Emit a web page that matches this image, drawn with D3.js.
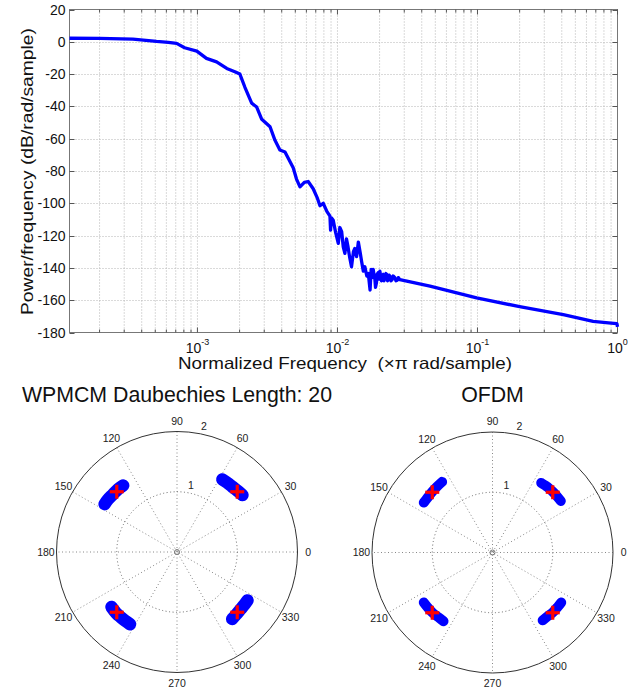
<!DOCTYPE html>
<html>
<head>
<meta charset="utf-8">
<script src="https://cdn.jsdelivr.net/npm/d3@7"></script>
<style>
html,body{margin:0;padding:0;background:#fff;}
svg{display:block;font-family:Arial,"Liberation Sans",sans-serif;}
</style>
</head>
<body>
<svg id="chart" width="643" height="693"></svg>
<script>
// ---------------- DATA ----------------
// PSD curve (normalized frequency x pi rad/sample, dB/rad/sample)
const psdFreq = [1.22e-4,2.0e-4,3.46e-4,5.1e-4,6.2e-4,7.1e-4,8.1e-4,9.9e-4,1.16e-3,1.37e-3,1.62e-3,1.85e-3,2.01e-3,
  2.18e-3,2.44e-3,2.65e-3,2.88e-3,3.30e-3,3.58e-3,3.88e-3,4.22e-3,4.83e-3,5.1e-3,5.40e-3,5.8e-3,6.18e-3,6.71e-3,
  7.2e-3,7.50e-3,7.92e-3,8.4e-3,8.84e-3,8.93e-3,9.05e-3,9.33e-3,9.7e-3,1.014e-2,1.04e-2,1.072e-2,1.1e-2,1.13e-2,
  1.16e-2,1.19e-2,1.22e-2,1.26e-2,1.30e-2,1.33e-2,1.37e-2,1.41e-2,1.45e-2,1.49e-2,1.53e-2,1.57e-2,1.62e-2,1.66e-2,
  1.71e-2,1.74e-2,1.77e-2,1.80e-2,1.83e-2,1.85e-2,1.87e-2,1.90e-2,1.92e-2,1.95e-2,1.98e-2,2.01e-2,2.04e-2,2.06e-2,
  2.09e-2,2.12e-2,2.15e-2,2.18e-2,2.22e-2,2.25e-2,2.28e-2,2.30e-2,2.34e-2,2.37e-2,2.41e-2,2.45e-2,2.50e-2,2.57e-2,
  2.62e-2,2.68e-2,2.72e-2,2.79e-2,4.58e-2,9.86e-2,0.2,0.41,0.67,0.9,0.99,1.0];
const psdPower = [2.2,2.1,1.6,0.2,-0.3,-1.0,-3.7,-5.8,-10.3,-12.4,-16.5,-18.5,-20,
  -28,-38,-40.4,-48,-52.6,-61,-67,-68.2,-78,-85,-89.8,-87,-86.5,-91,
  -97,-101.5,-100,-105,-108,-116.6,-109,-110.5,-118,-124.8,-115,-117.6,-127,-131,
  -122,-127,-133,-139.3,-130,-128,-133,-124,-130,-136.3,-142,-139.3,-145,-143.4,
  -153.7,-141,-146,-140.9,-145,-147,-152,-149.1,-144,-143,-147,-142,-146,-148,
  -144.5,-144,-148,-146.1,-143.5,-144,-148,-147,-144.5,-145.1,-148,-147.5,-145,-146.1,
  -148,-147.5,-146,-147.3,-151.3,-158.6,-164,-169,-173.1,-174.2,-174.5,-176.5];
const yTicks = [20,0,-20,-40,-60,-80,-100,-120,-140,-160,-180];
const xDecades = [-3,-2,-1,0];

// Polar constellations: [angle in degrees, radius] along each received cluster
const wpmcmClusters = [
  [[41,1.44],[45,1.43],[50,1.42],[54,1.42],[58,1.42]],
  [[129,1.42],[133,1.43],[138,1.43],[143,1.44],[146.5,1.44]],
  [[220,1.42],[225,1.43],[229,1.43],[233,1.43],[237,1.43]],
  [[309.5,1.44],[313,1.43],[318,1.42],[322,1.42],[325.5,1.42]]
];
const ofdmClusters = [
  [[37,1.42],[42,1.42],[46,1.42],[50,1.42],[55,1.41]],
  [[125.5,1.44],[130,1.43],[135,1.42],[140,1.41],[144,1.41]],
  [[216,1.41],[221,1.41],[225,1.41],[230,1.40],[234.5,1.40]],
  [[306.5,1.40],[311,1.40],[315,1.41],[320,1.41],[324,1.41]]
];
// transmitted reference symbols (real, imag)
const refReal = [1,-1,-1,1];
const refImag = [1,1,-1,-1];
const polarAngles = [0,30,60,90,120,150,180,210,240,270,300,330];
const polarRings = [1,2];

// ---------------- TOP PLOT ----------------
const svg = d3.select("#chart");
svg.append("rect").attr("width",643).attr("height",693).attr("fill","#fff");

const L=69.5, R=617.5, T=9.5, B=332.5;
const x = d3.scaleLog().domain([1.22e-4,1]).range([L,R]);
const y = d3.scaleLinear().domain([-180,20]).range([B,T]);
const gTop = svg.append("g");

const xMinor=[], xMajor=[];
for(let e=-4;e<=0;e++){
  for(let k=1;k<=9;k++){
    const v=k*Math.pow(10,e);
    if(v<1.22e-4||v>1) continue;
    if(k===1) xMajor.push(v); else xMinor.push(v);
  }
}
const gridCol="#b4b4b4";
gTop.selectAll(".vg").data(xMinor.concat(xMajor)).enter().append("line")
  .attr("x1",d=>x(d)).attr("x2",d=>x(d)).attr("y1",T).attr("y2",B)
  .attr("stroke",gridCol).attr("stroke-width",1).attr("stroke-dasharray","1,2");
gTop.selectAll(".hg").data(yTicks.slice(1,-1)).enter().append("line")
  .attr("x1",L).attr("x2",R).attr("y1",d=>Math.round(y(d))+0.5).attr("y2",d=>Math.round(y(d))+0.5)
  .attr("stroke",gridCol).attr("stroke-width",1).attr("stroke-dasharray","1,2");

gTop.append("rect").attr("x",L).attr("y",T).attr("width",R-L).attr("height",B-T)
  .attr("fill","none").attr("stroke","#777").attr("stroke-width",1);
const tkCol="#555";
yTicks.forEach(v=>{
  const yy=Math.round(y(v))+0.5;
  gTop.append("line").attr("x1",L).attr("x2",L+5).attr("y1",yy).attr("y2",yy).attr("stroke",tkCol);
  gTop.append("line").attr("x1",R-5).attr("x2",R).attr("y1",yy).attr("y2",yy).attr("stroke",tkCol);
});
xMinor.forEach(v=>{
  const xx=x(v);
  gTop.append("line").attr("x1",xx).attr("x2",xx).attr("y1",B).attr("y2",B-3).attr("stroke",tkCol);
  gTop.append("line").attr("x1",xx).attr("x2",xx).attr("y1",T).attr("y2",T+3).attr("stroke",tkCol);
});
xMajor.forEach(v=>{
  const xx=x(v);
  gTop.append("line").attr("x1",xx).attr("x2",xx).attr("y1",B).attr("y2",B-5).attr("stroke",tkCol);
  gTop.append("line").attr("x1",xx).attr("x2",xx).attr("y1",T).attr("y2",T+5).attr("stroke",tkCol);
});

gTop.selectAll(".yl").data(yTicks).enter().append("text")
  .attr("x",L-4).attr("y",d=>y(d)).attr("dy","0.36em")
  .attr("text-anchor","end").attr("font-size",14).attr("fill","#111")
  .text(d=>d);
xDecades.forEach(e=>{
  const t=gTop.append("text").attr("x",x(Math.pow(10,e))).attr("y",352.5)
    .attr("text-anchor","middle").attr("font-size",14).attr("fill","#111");
  t.append("tspan").text("10");
  t.append("tspan").attr("dy",-8).attr("font-size",9).text(String(e));
});
gTop.append("text").attr("x",345).attr("y",369).attr("text-anchor","middle")
  .attr("font-size",16.5).attr("textLength",334).attr("lengthAdjust","spacingAndGlyphs")
  .attr("fill","#111").text("Normalized Frequency \u00a0(\u00d7\u03c0 rad/sample)");
gTop.append("text").attr("transform",`translate(32.5,171.5) rotate(-90)`)
  .attr("text-anchor","middle").attr("font-size",16.5).attr("textLength",287).attr("lengthAdjust","spacingAndGlyphs")
  .attr("fill","#111").text("Power/frequency (dB/rad/sample)");

const psd = psdFreq.map((f,i)=>({f, p:psdPower[i]}));
gTop.append("path").datum(psd)
  .attr("d",d3.line().x(d=>x(d.f)).y(d=>y(d.p)))
  .attr("fill","none").attr("stroke","#0000ff").attr("stroke-width",3.3).attr("stroke-linejoin","round");

// ---------------- POLAR PLOTS ----------------
function polar(cx,cy,title,clusters,bw){
  const g=svg.append("g").attr("transform",`translate(${cx},${cy})`);
  const r=d3.scaleLinear().domain([0,2]).range([0,120.5]);
  const px=(a,rr)=>r(rr)*Math.cos(a*Math.PI/180);
  const py=(a,rr)=>-r(rr)*Math.sin(a*Math.PI/180);
  g.selectAll(".sp").data(polarAngles.filter(a=>a<180)).enter().append("line")
    .attr("x1",a=>px(a,2)).attr("y1",a=>py(a,2)).attr("x2",a=>px(a+180,2)).attr("y2",a=>py(a+180,2))
    .attr("stroke","#888").attr("stroke-width",1).attr("stroke-dasharray","1,2.5");
  g.append("circle").attr("r",r(polarRings[0])).attr("fill","none")
    .attr("stroke","#666").attr("stroke-dasharray","1,2.5");
  g.append("circle").attr("r",r(polarRings[1])).attr("fill","none").attr("stroke","#333").attr("stroke-width",1);
  g.append("circle").attr("r",2.5).attr("fill","none").attr("stroke","#777");
  g.selectAll(".al").data(polarAngles).enter().append("text")
    .attr("x",a=>px(a,2)*1.088).attr("y",a=>py(a,2)*1.088).attr("dy","0.35em")
    .attr("text-anchor","middle").attr("font-size",10.5).attr("fill","#222").text(a=>a);
  polarRings.forEach(v=>{
    g.append("text").attr("x",px(78.5,v)+(v===1?2:3)).attr("y",py(78.5,v)-8).attr("dy","0.35em")
      .attr("text-anchor","middle").attr("font-size",10.5).attr("fill","#222").text(v);
  });
  const ln=d3.line().curve(d3.curveCatmullRom).x(d=>px(d[0],d[1])).y(d=>py(d[0],d[1]));
  g.selectAll(".cl").data(clusters).enter().append("path")
    .attr("d",ln).attr("fill","none").attr("stroke","#0000ff").attr("stroke-width",bw)
    .attr("stroke-linecap","round");
  // reference symbols as red '+' markers, placed through the radial scale
  const ref = refReal.map((re,i)=>({re, im:refImag[i]}));
  const gx = d3.scaleLinear().domain([-2,2]).range([-r(2),r(2)]);
  const gy = d3.scaleLinear().domain([-2,2]).range([r(2),-r(2)]);
  const cross = g.selectAll(".rc").data(ref).enter().append("g")
    .attr("transform",d=>`translate(${gx(d.re)},${gy(d.im)})`);
  cross.append("line").attr("x1",-7).attr("x2",7).attr("y1",0).attr("y2",0).attr("stroke","#ff0000").attr("stroke-width",3.2);
  cross.append("line").attr("x1",0).attr("x2",0).attr("y1",-7).attr("y2",7).attr("stroke","#ff0000").attr("stroke-width",3.2);
  svg.append("text").attr("x",cx).attr("y",402).attr("text-anchor","middle")
    .attr("font-size",21.3).attr("fill","#111").text(title);
}
polar(177,552,"WPMCM Daubechies Length: 20",wpmcmClusters,12.5);
polar(492.5,552.5,"OFDM",ofdmClusters,10);
</script>
</body>
</html>
